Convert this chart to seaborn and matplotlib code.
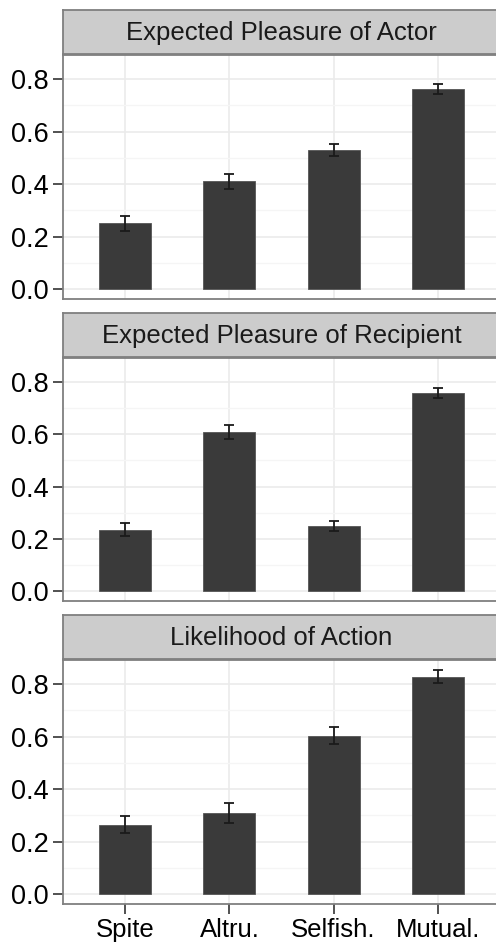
import matplotlib
matplotlib.use("Agg")
import matplotlib.pyplot as plt
from matplotlib.ticker import MultipleLocator
import numpy as np
import pandas as pd
import seaborn as sns

# ---- data ----
categories = ["Spite", "Altru.", "Selfish.", "Mutual."]
facets = ["Expected Pleasure of Actor", "Expected Pleasure of Recipient", "Likelihood of Action"]

actor_mean = [0.250, 0.410, 0.530, 0.761]
actor_se = [0.027, 0.029, 0.022, 0.019]
recipient_mean = [0.235, 0.608, 0.248, 0.757]
recipient_se = [0.025, 0.027, 0.019, 0.019]
action_mean = [0.265, 0.309, 0.604, 0.829]
action_se = [0.033, 0.039, 0.033, 0.023]

y_ticks = [0.0, 0.2, 0.4, 0.6, 0.8]
y_tick_labels = ["0.0", "0.2", "0.4", "0.6", "0.8"]

means = [actor_mean, recipient_mean, action_mean]
ses = [actor_se, recipient_se, action_se]
df = pd.concat(
    [pd.DataFrame({"facet": f, "motive": categories, "mean": m, "se": s})
     for f, m, s in zip(facets, means, ses)],
    ignore_index=True,
)

# ---- style ----
sns.set_theme(style="white")
plt.rcParams["font.family"] = ["Liberation Sans", "DejaVu Sans"]

W, H = 496, 946
fig = plt.figure(figsize=(W / 100, H / 100), dpi=100)

BORDER = "#7f7f7f"
STRIP = "#cccccc"
BAR = "#3a3a3a"


def px_axes(x0, y0, x1, y1, **kw):
    return fig.add_axes([x0 / W, 1 - y1 / H, (x1 - x0) / W, (y1 - y0) / H], **kw)


# (strip top, strip bottom, panel bottom) in pixels for each facet
layout = [(10, 55, 299), (313, 358, 601), (615, 660, 904)]
x_left, x_right = 63, 500

for i, (facet, (s_top, p_top, p_bot)) in enumerate(zip(facets, layout)):
    # strip label
    sax = px_axes(x_left, s_top, x_right, p_top - 1, facecolor=STRIP)
    sax.set_xticks([])
    sax.set_yticks([])
    for sp in sax.spines.values():
        sp.set_color(BORDER)
        sp.set_linewidth(1.3)
    sax.text(0.5, 0.47, facet, ha="center", va="center", fontsize=18.5,
             color="#1a1a1a", transform=sax.transAxes)

    # panel
    ax = px_axes(x_left, p_top, x_right, p_bot, facecolor="white")
    sub = df[df["facet"] == facet]
    sns.barplot(data=sub, x="motive", y="mean", order=categories, color=BAR,
                width=0.5, errorbar=None, edgecolor="#555555", linewidth=0.6,
                saturation=1, ax=ax, zorder=3)
    ax.errorbar(np.arange(len(categories)), sub["mean"].to_numpy(),
                yerr=sub["se"].to_numpy(), fmt="none", ecolor="#1a1a1a",
                elinewidth=1.3, capsize=3.8, capthick=1.3, zorder=4)

    ax.set_xlim(-0.6, 3.6)
    ax.set_ylim(-0.038, 0.892)
    ax.set_yticks(y_ticks)
    ax.set_yticklabels(y_tick_labels)
    ax.yaxis.set_minor_locator(MultipleLocator(0.1))
    ax.grid(True, which="major", color="#ebebeb", linewidth=1.2, zorder=0)
    ax.grid(True, which="minor", axis="y", color="#f5f5f5", linewidth=1.0, zorder=0)
    ax.set_axisbelow(True)
    ax.set_xlabel("")
    ax.set_ylabel("")

    for sp in ax.spines.values():
        sp.set_color(BORDER)
        sp.set_linewidth(1.3)

    ax.tick_params(axis="y", which="major", left=True, length=7, width=1.2,
                   color="#333333", labelsize=19.5, labelcolor="black", pad=3)
    ax.tick_params(axis="y", which="minor", left=False)
    if i == len(facets) - 1:
        ax.tick_params(axis="x", bottom=True, length=7, width=1.2,
                       color="#333333", labelsize=18.5, labelcolor="black", pad=3)
    else:
        ax.tick_params(axis="x", bottom=False, labelbottom=False)

fig.savefig("out.png", dpi=100, facecolor="white")
